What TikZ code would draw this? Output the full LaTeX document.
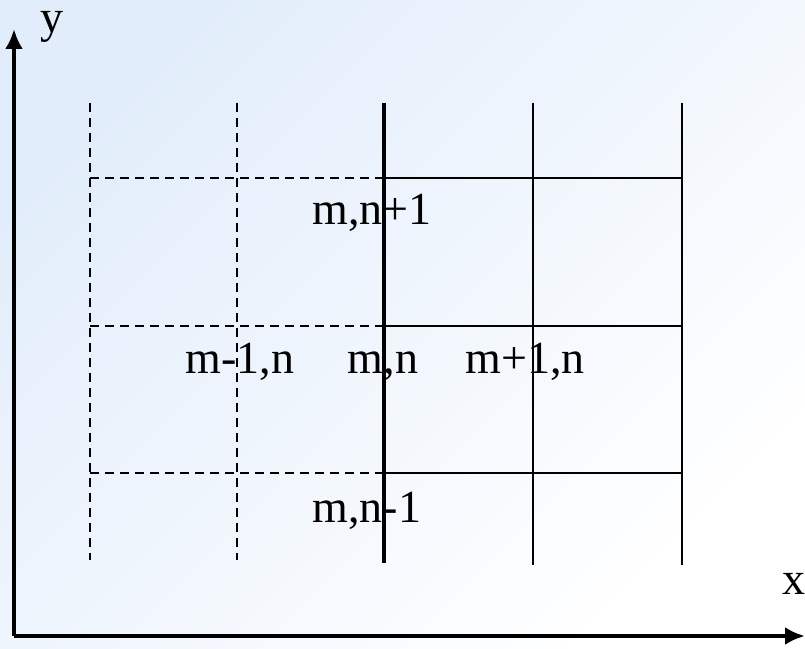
\documentclass[tikz,border=0pt]{standalone}
\usepackage{fontspec}
\setmainfont{Liberation Serif}
\usepackage{xcolor}
\usepackage{tikz}
\usetikzlibrary{arrows.meta}

\definecolor{bgblue}{RGB}{226,237,251}

\begin{document}
\begin{tikzpicture}[x=0.5pt,y=0.5pt,
    gridline/.style={line width=1pt},
    ghostline/.style={line width=1pt,dash pattern=on 4.5pt off 3pt},
    axisline/.style={line width=2.2pt,-{Latex[length=10pt,width=9pt]}},
    cell/.style={inner sep=0pt,anchor=base,font=\fontsize{23}{26}\selectfont}]
    \def\xa{90}
    \def\xb{237}
    \def\xc{384}
    \def\xd{533}
    \def\xe{682}
    \def\ytop{546}
    \def\yhi{471}
    \def\ymid{323}
    \def\ylo{176}

    % background
    \useasboundingbox (0,0) rectangle (805,649);
    \shade[top color=bgblue,bottom color=white,shading angle=45]
        (0,0) rectangle (805,649);

    % axes
    \coordinate (origin) at (14,13);
    \coordinate (xend) at (805,13);
    \coordinate (yend) at (14,620);
    \draw[axisline] (origin) -- (xend);
    \draw[axisline] (origin) -- (yend);
    \node[cell] (xlab) at (794,54) {x};
    \node[cell] (ylab) at (52,616) {y};

    % labels
    \node[cell] (up) at (372,424) {m,n+1};
    \node[cell] (left) at (240,275) {m-1,n};
    \node[cell] (here) at (383,275) {m,n};
    \node[cell] (right) at (525,275) {m+1,n};
    \node[cell] (down) at (367,126) {m,n-1};

    % dashed half
    \draw[ghostline] (\xa,\ytop) -- (\xa,89);
    \draw[ghostline] (\xb,\ytop) -- (\xb,89);
    \foreach \yy in {\yhi,\ymid,\ylo}
        \draw[ghostline] (\xa,\yy) -- (\xc,\yy);

    % solid half
    \draw[line width=2pt] (\xc,\ytop) -- (\xc,86);
    \draw[gridline] (\xd,\ytop) -- (\xd,84);
    \draw[gridline] (\xe,\ytop) -- (\xe,84);
    \foreach \yy in {\yhi,\ymid,\ylo}
        \draw[gridline] (\xc,\yy) -- (\xe,\yy);

\end{tikzpicture}
\end{document}
